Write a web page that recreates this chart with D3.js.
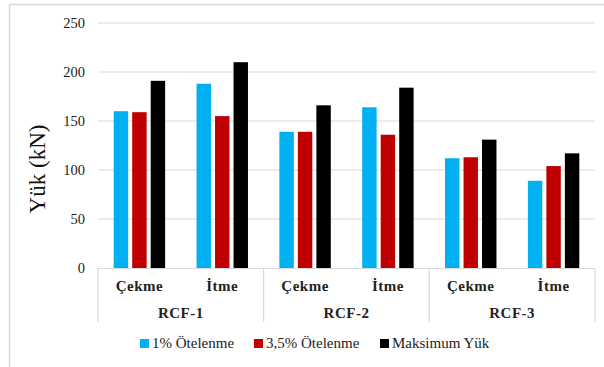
<!DOCTYPE html>
<html>
<head>
<meta charset="utf-8">
<script src="https://cdn.jsdelivr.net/npm/d3@7"></script>
<style>
  html, body { margin: 0; padding: 0; background: #fff; }
  svg { display: block; font-family: "Liberation Serif", "Times New Roman", serif; }
</style>
</head>
<body>
<svg id="chart" width="604" height="367"></svg>
<script>
// Specimen groups and loading directions
const groups = ["RCF-1", "RCF-2", "RCF-3"];
const directions = ["Çekme", "İtme"];

// Series
const seriesNames = ["1% Ötelenme", "3,5% Ötelenme", "Maksimum Yük"];
const seriesColors = ["#00B0F0", "#C00000", "#000000"];

// Loads (kN) per series, ordered RCF-1 Çekme, RCF-1 İtme, RCF-2 Çekme, ...
const drift1 = [160, 188, 139, 164, 112, 89];
const drift35 = [159, 155, 139, 136, 113, 104];
const maxLoad = [191, 210, 166, 184, 131, 117];

const yTicks = [0, 50, 100, 150, 200, 250];

const values = [drift1, drift35, maxLoad];
const cats = [];
groups.forEach(g => directions.forEach(d => cats.push({ group: g, dir: d, key: g + "|" + d })));

const svg = d3.select("#chart");
const plotLeft = 98, plotRight = 595, plotTop = 23, plotBottom = 268;
const grid = "#d9d9d9";

// Outer chart frame
svg.append("path")
  .attr("d", "M9.5,367 L9.5,4.5 L604,4.5")
  .attr("fill", "none").attr("stroke", grid).attr("stroke-width", 1.5);

const y = d3.scaleLinear().domain([0, 250]).range([plotBottom, plotTop]);
const x0 = d3.scaleBand().domain(cats.map(c => c.key)).range([plotLeft, plotRight]).padding(0);
const gx = d3.scaleBand().domain(groups).range([plotLeft, plotRight]).padding(0);
const inset = 15.7;
const x1 = d3.scaleBand().domain(d3.range(seriesNames.length))
  .range([inset, x0.bandwidth() - inset]).paddingInner(0.22);

// Horizontal gridlines
svg.append("g").selectAll("line").data(yTicks.filter(t => t > 0)).join("line")
  .attr("x1", plotLeft).attr("x2", plotRight)
  .attr("y1", d => y(d)).attr("y2", d => y(d))
  .attr("stroke", grid).attr("stroke-width", 1);

// Y axis labels
const yAxis = d3.axisLeft(y).tickValues(yTicks).tickSize(0).tickPadding(13);
const ya = svg.append("g").attr("transform", `translate(${plotLeft},0)`).call(yAxis);
ya.select(".domain").remove();
ya.selectAll("text").attr("font-family", "Liberation Serif").attr("font-size", 14.5).attr("fill", "#222");

// Y axis title
svg.append("text")
  .attr("transform", "translate(45,169) rotate(-90)")
  .attr("text-anchor", "middle")
  .attr("font-size", 23).attr("fill", "#111")
  .text("Yük (kN)");

// Bars
cats.forEach((c, ci) => {
  const g = svg.append("g").attr("transform", `translate(${x0(c.key)},0)`);
  values.forEach((vals, si) => {
    g.append("rect")
      .attr("x", x1(si)).attr("width", x1.bandwidth())
      .attr("y", y(vals[ci])).attr("height", y(0) - y(vals[ci]))
      .attr("fill", seriesColors[si]);
  });
});

// Category axis line and group separators
svg.append("line").attr("x1", plotLeft).attr("x2", plotRight).attr("y1", plotBottom + 0.5).attr("y2", plotBottom + 0.5)
  .attr("stroke", grid).attr("stroke-width", 1.2);
const seps = groups.map(g => gx(g)).concat([plotRight]);
svg.append("g").selectAll("line").data(seps).join("line")
  .attr("x1", d => d).attr("x2", d => d)
  .attr("y1", plotBottom).attr("y2", 322)
  .attr("stroke", grid).attr("stroke-width", 1.2);

// Direction labels
svg.append("g").selectAll("text").data(cats).join("text")
  .attr("x", d => x0(d.key) + x0.bandwidth() / 2)
  .attr("y", 291)
  .attr("text-anchor", "middle")
  .attr("font-size", 15).attr("font-weight", "bold").attr("fill", "#222")
  .attr("letter-spacing", 0.5)
  .text(d => d.dir);

// Group labels
svg.append("g").selectAll("text").data(groups).join("text")
  .attr("x", d => gx(d) + gx.bandwidth() / 2)
  .attr("y", 318)
  .attr("text-anchor", "middle")
  .attr("font-size", 15).attr("font-weight", "bold").attr("fill", "#222")
  .attr("letter-spacing", 0.5)
  .text(d => d);

// Legend
const legendX = [140, 254, 380];
const lg = svg.append("g").selectAll("g").data(seriesNames).join("g")
  .attr("transform", (d, i) => `translate(${legendX[i]},339)`);
lg.append("rect").attr("width", 9).attr("height", 9).attr("fill", (d, i) => seriesColors[i]);
lg.append("text").attr("x", 12).attr("y", 9)
  .attr("font-size", 15).attr("fill", "#222")
  .text(d => d);
</script>
</body>
</html>
